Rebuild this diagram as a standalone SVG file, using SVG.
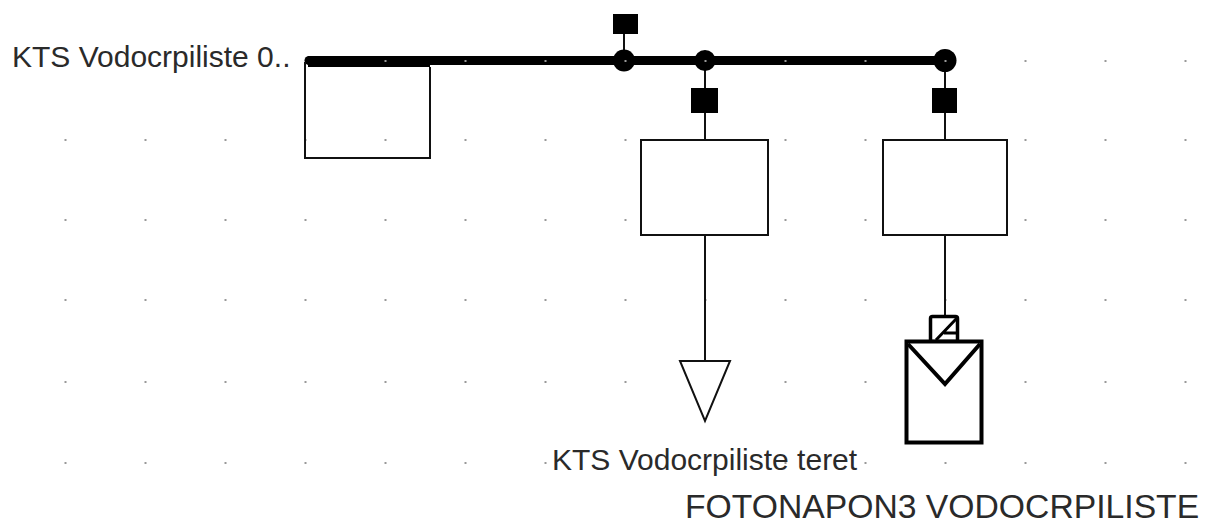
<svg xmlns="http://www.w3.org/2000/svg" width="1205" height="523" viewBox="0 0 1205 523">
<style>
.b{fill:#fff;stroke:#111;stroke-width:2}
.w{fill:none;stroke:#111;stroke-width:2}
.k{fill:#000}
.g{fill:none;stroke:#999;stroke-width:2;stroke-dasharray:2 78}
text{font-family:"Liberation Sans",Arial,sans-serif;font-size:30px;fill:#2a2a2a}
</style>
<rect width="1205" height="523" fill="#fff"/>
<g id="grid">
<path class="g" d="M64.500 140H1190M64.500 220H1190M64.500 300H1190M64.500 382H1190M64.500 463H1190"/>
</g>
<g id="connectors">
<path class="w" d="M624 34V61M705 61V140M945 61V140M705 235V361M945 235V316"/>
<path class="k" d="M308 56H430V67H308z"/>
<path d="M309 60.500H945" stroke="#000" stroke-width="9" stroke-linecap="round" fill="none"/>
</g>
<g id="bus-label"><text x="12" y="67">KTS Vodocrpiliste 0..</text></g>
<g id="node-left"><path class="w" d="M305 62V158H430V67"/></g>
<g id="bus-node-1"><circle class="k" cx="624" cy="60.500" r="11"/><rect class="k" x="613" y="14" width="25" height="20"/></g>
<g id="bus-node-2"><circle class="k" cx="705" cy="60.500" r="10.500"/><rect class="k" x="691" y="88" width="27" height="25"/></g>
<g id="bus-node-3"><circle class="k" cx="945" cy="60.500" r="11.500"/><rect class="k" x="932" y="88" width="25" height="25"/></g>
<g id="box-load"><rect class="b" x="641" y="140" width="127" height="95"/></g>
<g id="box-pv"><rect class="b" x="883" y="140" width="124" height="95"/></g>
<g id="load"><path class="b" d="M680 361H730L705 421Z"/><text x="552" y="470">KTS Vodocrpiliste teret</text></g>
<g id="pv">
<rect x="930.500" y="316.500" width="27" height="25" rx="2" fill="#fff" stroke="#000" stroke-width="3.500"/>
<path d="M957 318L936 340M944 333H957" fill="none" stroke="#000" stroke-width="3"/>
<rect x="906.500" y="341.500" width="75" height="101" fill="#fff" stroke="#000" stroke-width="4"/>
<path d="M908 344L945 384L980 344" fill="none" stroke="#000" stroke-width="4"/>
<text x="685" y="518" style="font-size:33.700px">FOTONAPON3 VODOCRPILISTE</text>
</g>
<g id="grid-top">
<path class="g" d="M384.500 61H1190"/>
</g>
</svg>
